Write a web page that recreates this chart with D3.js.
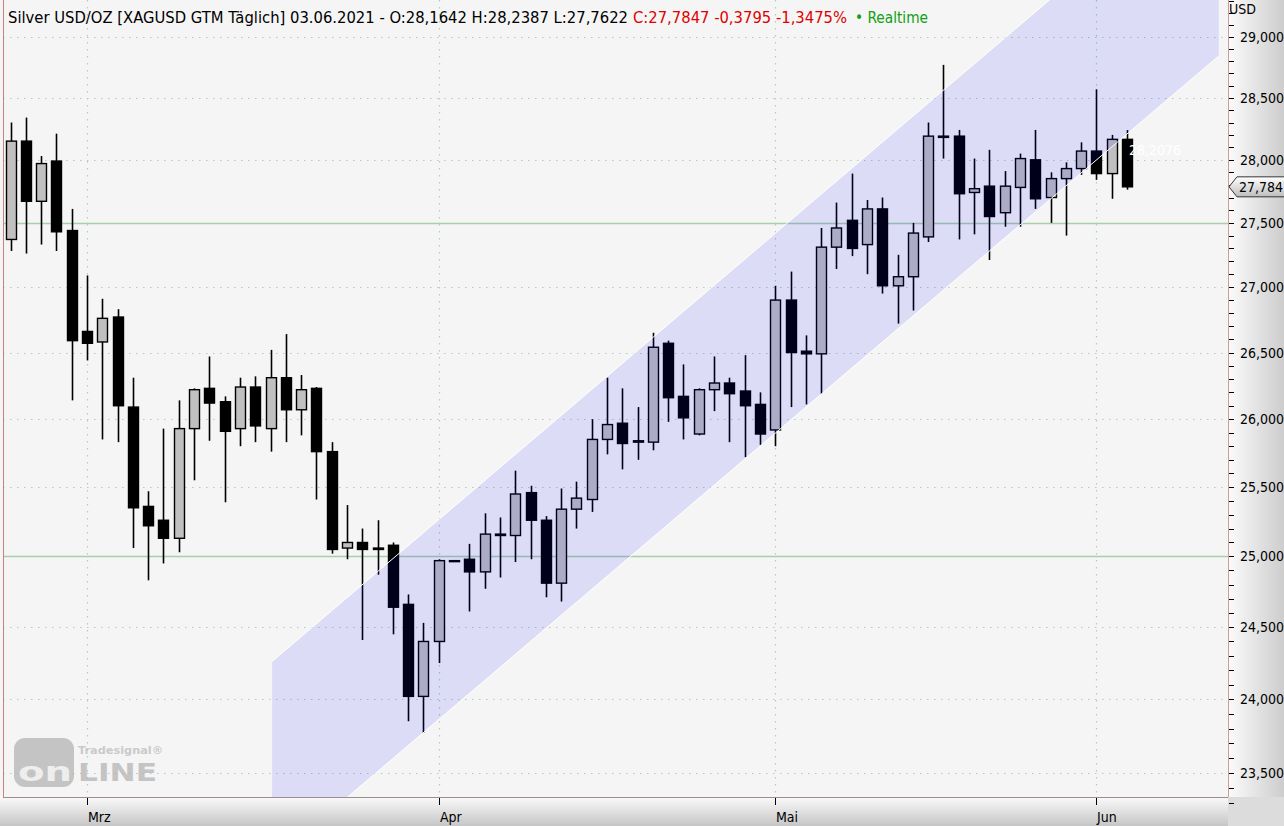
<!DOCTYPE html>
<html><head><meta charset="utf-8">
<script src="https://cdn.jsdelivr.net/npm/d3@7"></script>
<style>html,body{margin:0;padding:0;background:#f5f5f5;overflow:hidden}svg{display:block}</style>
</head><body><svg id="c" width="1284" height="826"></svg>
<script>
// ---- data ----
const dates = [
"22.02.2021","23.02.2021","24.02.2021","25.02.2021","26.02.2021",
"01.03.2021","02.03.2021","03.03.2021","04.03.2021","05.03.2021","08.03.2021","09.03.2021","10.03.2021","11.03.2021","12.03.2021",
"15.03.2021","16.03.2021","17.03.2021","18.03.2021","19.03.2021","22.03.2021","23.03.2021","24.03.2021","25.03.2021","26.03.2021",
"29.03.2021","30.03.2021","31.03.2021",
"01.04.2021","02.04.2021","05.04.2021","06.04.2021","07.04.2021","08.04.2021","09.04.2021","12.04.2021","13.04.2021","14.04.2021",
"15.04.2021","16.04.2021","19.04.2021","20.04.2021","21.04.2021","22.04.2021","23.04.2021","26.04.2021","27.04.2021","28.04.2021",
"29.04.2021","30.04.2021",
"03.05.2021","04.05.2021","05.05.2021","06.05.2021","07.05.2021","10.05.2021","11.05.2021","12.05.2021","13.05.2021","14.05.2021",
"17.05.2021","18.05.2021","19.05.2021","20.05.2021","21.05.2021","24.05.2021","25.05.2021","26.05.2021","27.05.2021","28.05.2021",
"31.05.2021",
"01.06.2021","02.06.2021","03.06.2021"];
const open  = [27.37,28.15,27.67,27.99,27.44,26.66,26.58,26.77,26.09,25.36,25.26,25.13,25.93,26.23,26.13,25.93,26.24,25.93,26.31,26.07,
               26.23,25.76,25.06,25.10,25.06,25.08,24.66,24.02,24.40,24.97,24.98,24.89,25.15,25.15,25.46,25.26,24.81,25.34,25.41,25.85,
               25.97,25.84,25.83,26.57,26.17,25.89,26.22,26.27,26.21,26.11,25.92,26.90,26.51,26.49,27.31,27.52,27.33,27.61,27.01,27.08,
               27.39,28.19,28.19,27.74,27.79,27.58,27.78,28.00,27.70,27.85,27.93,28.07,27.89,28.1642];
const high  = [28.30,28.34,28.03,28.21,27.61,27.09,26.91,26.83,26.31,25.47,25.93,26.14,26.23,26.47,26.17,26.31,26.32,26.52,26.64,26.33,
               26.24,25.83,25.37,25.20,25.26,25.10,24.73,24.53,24.98,24.97,25.09,25.31,25.28,25.62,25.51,25.29,25.49,25.54,26.00,26.31,
               26.23,26.09,26.65,26.59,26.41,26.23,26.47,26.31,26.48,26.20,27.01,27.12,26.63,27.46,27.66,27.89,27.68,27.70,27.25,27.50,
               28.30,28.77,28.24,28.01,28.08,27.91,28.05,28.24,27.90,27.98,28.14,28.57,28.20,28.2387];
const low   = [27.28,27.26,27.33,27.28,26.14,26.44,25.85,25.83,25.06,24.83,24.95,25.03,25.55,25.84,25.39,25.80,25.83,25.76,25.83,25.88,
               25.41,25.02,24.98,24.41,24.87,24.45,23.85,23.77,24.25,24.97,24.61,24.77,24.85,24.96,24.98,24.71,24.68,25.20,25.32,25.74,
               25.63,25.70,25.77,25.98,25.85,25.88,26.06,25.83,25.72,25.81,25.80,26.09,26.11,26.19,27.14,27.24,27.10,26.95,26.72,26.82,
               27.35,28.01,27.37,27.41,27.21,27.47,27.47,27.61,27.50,27.40,27.88,27.84,27.69,27.7622];
const close = [28.15,27.67,27.97,27.43,26.59,26.57,26.76,26.10,25.35,25.22,25.13,25.93,26.22,26.12,25.91,26.24,25.95,26.31,26.07,26.22,
               25.76,25.05,25.10,25.05,25.05,24.64,24.02,24.40,24.97,24.97,24.89,25.16,25.16,25.45,25.26,24.81,25.34,25.42,25.85,25.96,
               25.82,25.83,26.54,26.16,26.01,26.22,26.27,26.19,26.10,25.89,26.90,26.50,26.49,27.31,27.46,27.30,27.61,27.01,27.08,27.42,
               28.19,28.18,27.73,27.77,27.55,27.79,28.01,27.69,27.85,27.93,28.07,27.89,28.1642,27.7847];
const yTickValues = [23.5,24.0,24.5,25.0,25.5,26.0,26.5,27.0,27.5,28.0,28.5,29.0];
const monthNames = ["Jan","Feb","Mrz","Apr","Mai","Jun","Jul"];
const supportLevels = [25.0, 27.5];
const channelIndex = [17.1, 79];
const channelLower = [22.914, 28.844];
const channelUpper = [24.261, 30.540];
const channelLabel = "28,2076";
const lastPrice = 27.7847;
const titleMain = "Silver USD/OZ [XAGUSD GTM Täglich] 03.06.2021 - O:28,1642 H:28,2387 L:27,7622";
const titleChange = "C:27,7847 -0,3795 -1,3475%";
const titleRT = "• Realtime";

// ---- layout ----
const W = 1284, H = 826;
const P = {left: 3, right: 1228, top: 0, bottom: 797};
const FONT = "'DejaVu Sans Condensed','DejaVu Sans',sans-serif";
const fmt = v => d3.format(".3f")(v).replace(".", ",");
const fmt4 = v => d3.format(".4f")(v).replace(".", ",");

const svg = d3.select("#c");
const defs = svg.append("defs");
const gR = defs.append("linearGradient").attr("id","gr").attr("x1",0).attr("x2",1).attr("y1",0).attr("y2",0);
gR.append("stop").attr("offset",0).attr("stop-color","#fbfbfb");
gR.append("stop").attr("offset",1).attr("stop-color","#cdcdcd");
const gB = defs.append("linearGradient").attr("id","gb").attr("x1",0).attr("x2",0).attr("y1",0).attr("y2",1);
gB.append("stop").attr("offset",0).attr("stop-color","#fafafa");
gB.append("stop").attr("offset",1).attr("stop-color","#c6c6c6");
const gC = defs.append("linearGradient").attr("id","gc").attr("x1",0).attr("x2",0).attr("y1",0).attr("y2",1);
gC.append("stop").attr("offset",0).attr("stop-color","#ffffff");
gC.append("stop").attr("offset",1).attr("stop-color","#bdbdbd");
defs.append("clipPath").attr("id","plotclip").append("rect")
  .attr("x",P.left).attr("y",P.top).attr("width",P.right-P.left).attr("height",P.bottom-P.top);

const x = d3.scaleLinear().domain([0, 73]).range([10.5, 1127]);
const y = d3.scaleLog().domain([23.5, 29]).range([773, 37]);

// backgrounds
svg.append("rect").attr("x",0).attr("y",0).attr("width",W).attr("height",H).attr("fill","#f5f5f5");
svg.append("rect").attr("x",P.right).attr("y",0).attr("width",W-P.right).attr("height",P.bottom).attr("fill","url(#gr)");
svg.append("rect").attr("x",0).attr("y",P.bottom).attr("width",P.right).attr("height",H-P.bottom).attr("fill","url(#gb)");
svg.append("rect").attr("x",P.right).attr("y",P.bottom).attr("width",W-P.right).attr("height",H-P.bottom).attr("fill","#dcdcdc");

const plot = svg.append("g").attr("clip-path","url(#plotclip)");

// grid
const gridCol = "#b3ccb3";
plot.selectAll(".hg").data(yTickValues.filter(v => !supportLevels.includes(v))).join("line")
  .attr("x1",P.left).attr("x2",P.right).attr("y1",d=>Math.round(y(d))+0.5).attr("y2",d=>Math.round(y(d))+0.5)
  .attr("stroke",gridCol).attr("stroke-width",1.2).attr("stroke-dasharray","1.5,5.5");
const monthStarts = [];
dates.forEach((d,i) => { const m = +d.slice(3,5); if (i>0 && m !== +dates[i-1].slice(3,5)) monthStarts.push({i, label: monthNames[m-1]}); });
plot.selectAll(".vg").data(monthStarts).join("line")
  .attr("x1",d=>Math.round(x(d.i))+0.5).attr("x2",d=>Math.round(x(d.i))+0.5).attr("y1",P.top).attr("y2",P.bottom)
  .attr("stroke",gridCol).attr("stroke-width",1.2).attr("stroke-dasharray","1.5,5.5");
plot.selectAll(".sl").data(supportLevels).join("line")
  .attr("x1",P.left).attr("x2",P.right).attr("y1",d=>Math.round(y(d))+0.5).attr("y2",d=>Math.round(y(d))+0.5)
  .attr("stroke","#a9cfa9").attr("stroke-width",1.3);

// logo
const logo = svg.append("g").attr("opacity",0.75);
logo.append("rect").attr("x",14).attr("y",738).attr("width",60).attr("height",49).attr("rx",11).attr("fill","#b4b4b4");
logo.append("text").attr("x",18).attr("y",781).attr("font-family","'DejaVu Sans',sans-serif").attr("font-weight","bold")
  .attr("font-size",26).attr("fill","#ececec").attr("textLength",54).attr("lengthAdjust","spacingAndGlyphs").text("on");
logo.append("text").attr("x",78).attr("y",781).attr("font-family","'DejaVu Sans',sans-serif").attr("font-weight","bold")
  .attr("font-size",25).attr("fill","#b4b4b4").attr("textLength",79).attr("lengthAdjust","spacingAndGlyphs").text("LINE");
logo.append("text").attr("x",78).attr("y",754).attr("font-family","'DejaVu Sans',sans-serif").attr("font-weight","bold")
  .attr("font-size",10).attr("fill","#bcbcbc").attr("textLength",85).attr("lengthAdjust","spacingAndGlyphs").text("Tradesignal®");

// candles
const data = dates.map((d,i)=>({i, d, o:open[i], h:high[i], l:low[i], c:close[i]}));
const cg = plot.append("g");
cg.selectAll(".wick").data(data).join("line")
  .attr("x1",d=>Math.round(x(d.i))+0.5).attr("x2",d=>Math.round(x(d.i))+0.5)
  .attr("y1",d=>y(d.h)).attr("y2",d=>y(d.l)).attr("stroke","#000").attr("stroke-width",1.6);
cg.selectAll(".body").data(data).join("rect")
  .attr("x",d=>Math.round(x(d.i))-4.5).attr("width",10)
  .attr("y",d=>y(Math.max(d.o,d.c)))
  .attr("height",d=>Math.max(1, Math.abs(y(d.o)-y(d.c))))
  .attr("fill",d=>d.c>=d.o ? "#c0c0c0" : "#000")
  .attr("stroke","#000").attr("stroke-width",1.4);

// channel
const chPts = [[channelIndex[0],channelLower[0]],[channelIndex[1],channelLower[1]],[channelIndex[1],channelUpper[1]],[channelIndex[0],channelUpper[0]]];
plot.append("path").attr("d","M"+chPts.map(p=>[x(p[0]),y(p[1])].join(",")).join("L")+"Z")
  .attr("fill","rgba(0,0,255,0.1)");
[channelLower, channelUpper].forEach(arr => {
  plot.append("line").attr("x1",x(channelIndex[0])).attr("y1",y(arr[0])).attr("x2",x(channelIndex[1])).attr("y2",y(arr[1]))
    .attr("stroke","#ffffff").attr("stroke-width",1);
});
plot.append("text").attr("x",x(73)+2).attr("y",155).attr("font-family",FONT).attr("font-size",14)
  .attr("fill","#ffffff").text(channelLabel);

// borders
svg.append("line").attr("x1",P.left+0.5).attr("x2",P.left+0.5).attr("y1",0).attr("y2",P.bottom).attr("stroke","#c98282").attr("stroke-width",1);
svg.append("line").attr("x1",P.right+0.5).attr("x2",P.right+0.5).attr("y1",0).attr("y2",P.bottom).attr("stroke","#d09a9a").attr("stroke-width",1);
svg.append("line").attr("x1",P.left).attr("x2",P.right).attr("y1",P.bottom+0.5).attr("y2",P.bottom+0.5).attr("stroke","#a08c8c").attr("stroke-width",1);

// y axis
const minorTicks = d3.range(233, 296).map(v => v/10);
svg.selectAll(".yt").data(minorTicks).join("line")
  .attr("x1",P.right+1).attr("x2",P.right+6).attr("y1",d=>Math.round(y(d))+0.5).attr("y2",d=>Math.round(y(d))+0.5)
  .attr("stroke","#000").attr("stroke-width",1);
svg.selectAll(".yl").data(yTickValues).join("text")
  .attr("x",1240).attr("y",d=>y(d)+5).attr("font-family",FONT).attr("font-size",14).attr("fill","#000").text(d=>fmt(d));
svg.append("text").attr("x",1229).attr("y",14).attr("font-family",FONT).attr("font-size",14).attr("fill","#000").text("USD");

// last price callout
const ly = y(lastPrice);
svg.append("path").attr("d",`M${P.right+1},${ly} L${P.right+9},${ly-10} L${W+2},${ly-10} L${W+2},${ly+10} L${P.right+9},${ly+10} Z`)
  .attr("fill","url(#gc)").attr("stroke","#333").attr("stroke-width",1);
svg.append("text").attr("x",1239).attr("y",ly+5).attr("font-family",FONT).attr("font-size",14).attr("fill","#000").text(fmt4(lastPrice));

// x axis
svg.selectAll(".xt").data(monthStarts).join("line")
  .attr("x1",d=>Math.round(x(d.i))+0.5).attr("x2",d=>Math.round(x(d.i))+0.5).attr("y1",P.bottom+1).attr("y2",P.bottom+8)
  .attr("stroke","#000").attr("stroke-width",1);
svg.selectAll(".xl").data(monthStarts).join("text")
  .attr("x",d=>Math.round(x(d.i))+1).attr("y",822).attr("font-family",FONT).attr("font-size",14).attr("fill","#000").text(d=>d.label);

// title
svg.append("text").attr("x",8).attr("y",23).attr("font-family",FONT).attr("font-size",15).attr("fill","#000")
  .attr("textLength",620).attr("lengthAdjust","spacingAndGlyphs").text(titleMain);
svg.append("text").attr("x",633).attr("y",23).attr("font-family",FONT).attr("font-size",15).attr("fill","#e00000")
  .attr("textLength",214).attr("lengthAdjust","spacingAndGlyphs").text(titleChange);
svg.append("text").attr("x",855).attr("y",23).attr("font-family",FONT).attr("font-size",15).attr("fill","#10a010")
  .attr("textLength",73).attr("lengthAdjust","spacingAndGlyphs").text(titleRT);
</script></body></html>
